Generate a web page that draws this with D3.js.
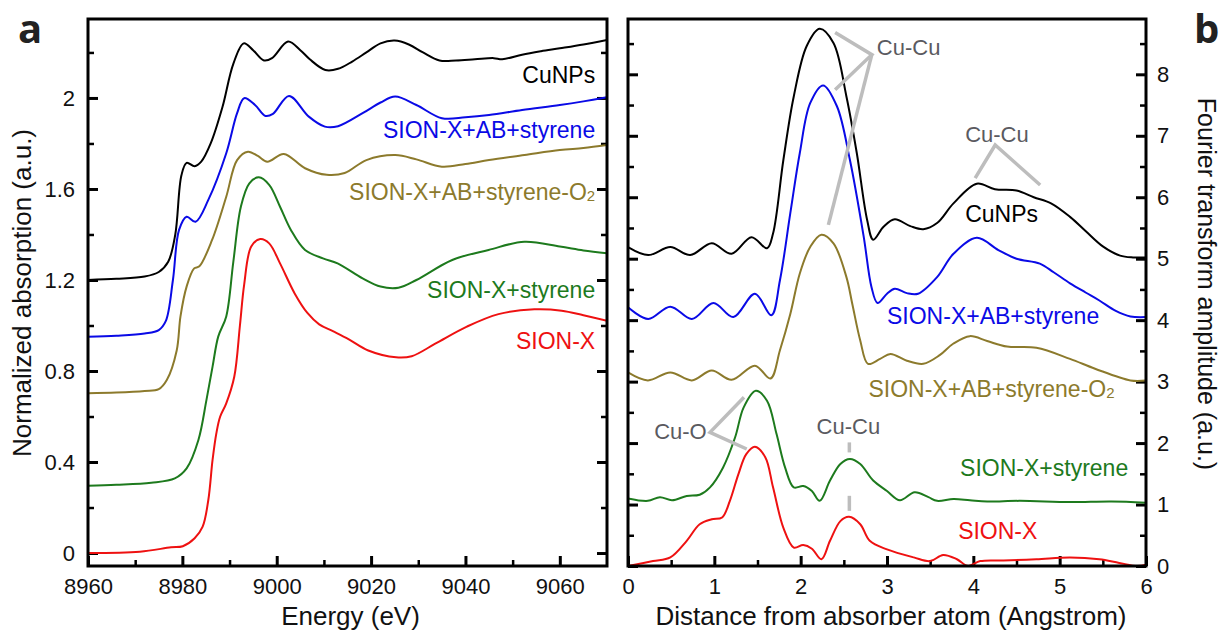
<!DOCTYPE html>
<html>
<head>
<meta charset="utf-8">
<script src="https://cdn.jsdelivr.net/npm/d3@7"></script>
<style>
  body { margin: 0; background: #fff; }
  svg { display: block; font-family: "Liberation Sans", Arial, sans-serif; }
</style>
</head>
<body>
<div id="chart"></div>
<script>
// ---- panel a : XANES (energy in eV, normalized absorption) ----
var eCuNPs   = [8960, 8966, 8972, 8975, 8977, 8978.5, 8979.8, 8980.9, 8982.6, 8984, 8986, 8988.5, 8990.8, 8993, 8995, 8997.3, 8999, 9002.4, 9005, 9007, 9010.3, 9013, 9016, 9019, 9022, 9025, 9028, 9031, 9034.5, 9038, 9042, 9046, 9047.8, 9052, 9056, 9060, 9065, 9070];
var aCuNPs   = [1.20, 1.205, 1.215, 1.235, 1.28, 1.40, 1.66, 1.715, 1.70, 1.72, 1.80, 1.96, 2.15, 2.24, 2.21, 2.165, 2.175, 2.248, 2.21, 2.17, 2.123, 2.128, 2.16, 2.20, 2.24, 2.252, 2.235, 2.20, 2.165, 2.165, 2.17, 2.175, 2.17, 2.19, 2.205, 2.218, 2.235, 2.255];

var eAB      = [8960, 8966, 8972, 8975, 8976.5, 8978, 8979.3, 8980.9, 8982.8, 8985.5, 8989.3, 8991.6, 8993.1, 8995.4, 8997.6, 8999.2, 9002.6, 9006.8, 9010.2, 9013, 9018.2, 9022, 9025.1, 9029.6, 9035, 9040, 9045, 9052, 9060, 9065, 9070];
var aAB      = [0.95, 0.955, 0.965, 0.98, 1.02, 1.20, 1.42, 1.478, 1.456, 1.552, 1.757, 1.933, 1.999, 1.969, 1.921, 1.93, 2.009, 1.918, 1.874, 1.876, 1.933, 1.98, 2.006, 1.969, 1.911, 1.915, 1.925, 1.947, 1.969, 1.985, 2.003];

var eABO2    = [8960, 8966, 8972, 8975, 8976.7, 8978.8, 8979.6, 8980.9, 8982.5, 8983.6, 8986.3, 8989.3, 8991.6, 8993.9, 8996, 8998, 9001.5, 9006, 9010.6, 9014.4, 9019, 9025.1, 9029.6, 9035, 9040, 9045, 9052.5, 9060, 9065, 9070];
var aABO2    = [0.702, 0.705, 0.712, 0.72, 0.76, 0.89, 1.04, 1.171, 1.251, 1.26, 1.376, 1.566, 1.727, 1.764, 1.745, 1.72, 1.754, 1.691, 1.662, 1.67, 1.727, 1.749, 1.73, 1.698, 1.71, 1.727, 1.749, 1.771, 1.78, 1.793];

var eSty     = [8960, 8966, 8973.4, 8978.4, 8980.9, 8983.4, 8985.1, 8986.4, 8987.6, 8989.3, 8990.8, 8992.4, 8994.2, 8996.2, 8998.4, 9000.7, 9003, 9006, 9009.8, 9012.9, 9018.2, 9022, 9025.8, 9029.6, 9037.2, 9044.9, 9052.5, 9060, 9065, 9070];
var aSty     = [0.296, 0.30, 0.309, 0.328, 0.372, 0.497, 0.672, 0.819, 0.951, 1.04, 1.28, 1.522, 1.625, 1.651, 1.618, 1.522, 1.42, 1.332, 1.295, 1.273, 1.207, 1.171, 1.166, 1.20, 1.288, 1.332, 1.368, 1.347, 1.33, 1.317];

var eSion    = [8960, 8971, 8977.6, 8980.1, 8982.6, 8984.3, 8985.5, 8986.4, 8987.2, 8988, 8989.3, 8991, 8992.2, 8993.1, 8994.6, 8996.5, 8998.4, 9000.7, 9003.8, 9006.5, 9009, 9011.9, 9015.2, 9019.4, 9025.3, 9028.6, 9033.6, 9040.3, 9047, 9054.6, 9060.4, 9065, 9070];
var aSion    = [0, 0.006, 0.025, 0.03, 0.065, 0.116, 0.233, 0.409, 0.526, 0.599, 0.658, 0.775, 1.0, 1.18, 1.347, 1.38, 1.361, 1.273, 1.141, 1.055, 1.005, 0.975, 0.94, 0.89, 0.86, 0.865, 0.92, 0.995, 1.05, 1.071, 1.065, 1.045, 1.021];

var xTicksA      = [8960, 8980, 9000, 9020, 9040, 9060];
var xMinorA      = [8970, 8990, 9010, 9030, 9050];
var yTicksA      = [0, 0.4, 0.8, 1.2, 1.6, 2];
var yTickLabelsA = ["0", "0.4", "0.8", "1.2", "1.6", "2"];
var yMinorA      = [0.2, 0.6, 1.0, 1.4, 1.8, 2.2];

// ---- panel b : Fourier transform (distance in Angstrom, amplitude) ----
var rCuNPs = [0, 0.235, 0.49, 0.72, 0.97, 1.2, 1.43, 1.61, 1.68, 1.8, 1.92, 2.07, 2.22, 2.38, 2.53, 2.65, 2.77, 2.84, 2.96, 3.09, 3.27, 3.42, 3.58, 3.77, 4.04, 4.25, 4.5, 4.7, 4.9, 5.12, 5.3, 5.5, 5.7, 5.85, 6];
var fCuNPs = [5.19, 5.06, 5.19, 5.06, 5.25, 5.08, 5.35, 5.17, 5.41, 6.61, 7.64, 8.46, 8.74, 8.51, 7.64, 6.72, 5.63, 5.31, 5.52, 5.64, 5.53, 5.48, 5.58, 5.9, 6.22, 6.13, 6.11, 6.0, 5.9, 5.68, 5.45, 5.2, 5.05, 5.02, 5.02];

var rAB = [0, 0.235, 0.49, 0.74, 0.99, 1.22, 1.47, 1.66, 1.76, 1.88, 1.99, 2.11, 2.26, 2.42, 2.57, 2.73, 2.82, 2.89, 3.0, 3.09, 3.23, 3.36, 3.58, 3.77, 4.04, 4.29, 4.5, 4.77, 4.93, 5.12, 5.3, 5.46, 5.65, 5.82, 6];
var fAB = [4.21, 4.02, 4.22, 4.02, 4.28, 4.05, 4.43, 4.08, 4.65, 5.74, 6.72, 7.53, 7.82, 7.48, 6.61, 5.36, 4.54, 4.28, 4.43, 4.51, 4.44, 4.43, 4.7, 5.08, 5.34, 5.14, 5.0, 4.92, 4.78, 4.6, 4.45, 4.32, 4.15, 4.06, 4.05];

var rABO2 = [0, 0.23, 0.49, 0.74, 0.97, 1.2, 1.47, 1.65, 1.76, 1.88, 1.99, 2.11, 2.24, 2.38, 2.53, 2.6, 2.69, 2.78, 2.92, 3.04, 3.23, 3.42, 3.61, 3.77, 3.96, 4.16, 4.39, 4.73, 5.12, 5.41, 5.82, 6];
var fABO2 = [3.15, 3.02, 3.15, 3.02, 3.18, 3.03, 3.26, 3.05, 3.51, 4.1, 4.76, 5.19, 5.39, 5.25, 4.7, 4.25, 3.67, 3.29, 3.37, 3.45, 3.34, 3.29, 3.43, 3.62, 3.74, 3.66, 3.57, 3.55, 3.37, 3.21, 3.02, 3.02];

var rSty = [0, 0.23, 0.37, 0.51, 0.68, 0.83, 0.95, 1.1, 1.24, 1.34, 1.48, 1.61, 1.72, 1.82, 1.92, 2.03, 2.13, 2.22, 2.34, 2.46, 2.57, 2.69, 2.84, 3.0, 3.15, 3.32, 3.48, 3.58, 3.77, 3.96, 4.16, 4.54, 5.12, 5.6, 6];
var fSty = [1.1, 1.06, 1.12, 1.07, 1.14, 1.16, 1.28, 1.6, 2.09, 2.58, 2.85, 2.69, 2.15, 1.6, 1.28, 1.3, 1.22, 1.06, 1.39, 1.66, 1.74, 1.66, 1.39, 1.22, 1.07, 1.2, 1.12, 1.06, 1.09, 1.07, 1.05, 1.06, 1.04, 1.05, 1.03];

var rSion = [0, 0.29, 0.49, 0.68, 0.83, 0.97, 1.09, 1.18, 1.28, 1.37, 1.47, 1.59, 1.68, 1.8, 1.92, 2.03, 2.13, 2.24, 2.34, 2.46, 2.56, 2.69, 2.8, 3.0, 3.31, 3.5, 3.65, 3.81, 3.94, 4.08, 4.35, 4.73, 5.12, 5.46, 5.69, 5.9, 6];
var fSion = [0, 0.08, 0.14, 0.41, 0.68, 0.76, 0.79, 1.06, 1.5, 1.82, 1.94, 1.77, 1.28, 0.62, 0.3, 0.34, 0.28, 0.11, 0.41, 0.73, 0.8, 0.68, 0.41, 0.27, 0.14, 0.08, 0.18, 0.11, 0.0, 0.08, 0.09, 0.11, 0.14, 0.11, 0.05, 0.0, 0.02];

var xTicksB = [0, 1, 2, 3, 4, 5, 6];
var xMinorB = [0.5, 1.5, 2.5, 3.5, 4.5, 5.5];
var yTicksB = [0, 1, 2, 3, 4, 5, 6, 7, 8];
var yMinorB = [0.5, 1.5, 2.5, 3.5, 4.5, 5.5, 6.5, 7.5, 8.5];

var names  = ["CuNPs", "SION-X+AB+styrene", "SION-X+AB+styrene-O", "SION-X+styrene", "SION-X"];
var colors = ["#000000", "#0a0ae6", "#8c7a2c", "#1d7a1d", "#ee1111"];

var svg = d3.select("#chart").append("svg")
  .attr("width", 1223)
  .attr("height", 632);

var xA = d3.scaleLinear().domain([8960, 9070]).range([88, 607]);
var yA = d3.scaleLinear().domain([-0.057, 2.347]).range([566, 19]);
var xB = d3.scaleLinear().domain([0, 6]).range([628, 1146]);
var yB = d3.scaleLinear().domain([0, 8.9]).range([566, 19]);

function addAxis(axis, tx, ty, size, pad) {
  var g = svg.append("g")
    .attr("transform", `translate(${tx},${ty})`)
    .call(axis.tickSize(-size).tickPadding(pad));
  g.select(".domain").remove();
  g.selectAll(".tick line").attr("stroke", "#000").attr("stroke-width", size > 7 ? 3 : 2.5);
  g.selectAll("text").attr("font-size", "22px").attr("fill", "#111")
    .attr("font-family", "Liberation Sans, Arial, sans-serif");
  return g;
}

function frame(x, y, id) {
  svg.append("clipPath").attr("id", id).append("rect")
    .attr("x", x.range()[0]).attr("y", y.range()[1])
    .attr("width", x.range()[1] - x.range()[0])
    .attr("height", y.range()[0] - y.range()[1]);
}

// ---- panel a axes ----
frame(xA, yA, "clipA");
addAxis(d3.axisBottom(xA).tickValues(xTicksA).tickFormat(d3.format("d")), 0, 566, 10, 12);
addAxis(d3.axisBottom(xA).tickValues(xMinorA).tickFormat(""), 0, 566, 6, 0);
addAxis(d3.axisLeft(yA).tickValues(yTicksA).tickFormat((d, i) => yTickLabelsA[i]), 88, 0, 10, 13);
addAxis(d3.axisLeft(yA).tickValues(yMinorA).tickFormat(""), 88, 0, 6, 0);
addAxis(d3.axisRight(yA).tickValues(yTicksA).tickFormat(""), 607, 0, 10, 0);
addAxis(d3.axisRight(yA).tickValues(yMinorA).tickFormat(""), 607, 0, 6, 0);

// ---- panel b axes ----
frame(xB, yB, "clipB");
addAxis(d3.axisBottom(xB).tickValues(xTicksB).tickFormat(d3.format("d")), 0, 566, 10, 12);
addAxis(d3.axisBottom(xB).tickValues(xMinorB).tickFormat(""), 0, 566, 6, 0);
addAxis(d3.axisLeft(yB).tickValues(yTicksB).tickFormat(""), 628, 0, 10, 0);
addAxis(d3.axisLeft(yB).tickValues(yMinorB).tickFormat(""), 628, 0, 6, 0);
addAxis(d3.axisRight(yB).tickValues(yTicksB).tickFormat(d3.format("d")), 1146, 0, 10, 11);
addAxis(d3.axisRight(yB).tickValues(yMinorB).tickFormat(""), 1146, 0, 6, 0);

// ---- curves ----
function drawCurves(xs, ys, x, y, clip) {
  var line = d3.line()
    .x(d => x(d[0]))
    .y(d => y(d[1]))
    .curve(d3.curveCatmullRom.alpha(0.5));
  xs.forEach(function(arr, i) {
    svg.append("path")
      .datum(arr.map((v, j) => [v, ys[i][j]]))
      .attr("clip-path", `url(#${clip})`)
      .attr("fill", "none")
      .attr("stroke", colors[i])
      .attr("stroke-width", 2)
      .attr("d", line);
  });
}
drawCurves([eCuNPs, eAB, eABO2, eSty, eSion], [aCuNPs, aAB, aABO2, aSty, aSion], xA, yA, "clipA");
drawCurves([rCuNPs, rAB, rABO2, rSty, rSion], [fCuNPs, fAB, fABO2, fSty, fSion], xB, yB, "clipB");

// frames on top
[[xA, yA], [xB, yB]].forEach(function(p) {
  svg.append("rect")
    .attr("x", p[0].range()[0]).attr("y", p[1].range()[1])
    .attr("width", p[0].range()[1] - p[0].range()[0])
    .attr("height", p[1].range()[0] - p[1].range()[1])
    .attr("fill", "none").attr("stroke", "#000").attr("stroke-width", 3);
});

// ---- series labels ----
function seriesLabel(x, y, i, anchor) {
  var t = svg.append("text")
    .attr("x", x).attr("y", y)
    .attr("text-anchor", anchor)
    .attr("font-size", "23px")
    .attr("fill", colors[i])
    .text(names[i]);
  if (i === 2) t.append("tspan").attr("font-size", "15px").attr("dy", 1).text("2");
}
var labelYA = [2.065, 1.823, 1.552, 1.12, 0.895];
labelYA.forEach((v, i) => seriesLabel(xA(9067.5), yA(v), i, "end"));

var labelXB = [3.905, 3.0, 2.785, 3.847, 3.824];
var labelYB = [5.6, 3.943, 2.746, 1.468, 0.436];
labelXB.forEach((v, i) => seriesLabel(xB(v), yB(labelYB[i]), i, "start"));

// ---- annotations (panel b) ----
var annoLines = [
  [[2.399, 8.68], [2.824, 8.32], [2.399, 7.75]],
  [[2.824, 8.32], [2.321, 5.55]],
  [[4.021, 6.31], [4.253, 6.85], [4.774, 6.2]],
  [[1.344, 2.746], [0.950, 2.175], [1.375, 1.904]],
  [[2.564, 2.011], [2.564, 1.848]],
  [[2.564, 1.142], [2.564, 0.897]]
];
var annoLine = d3.line().x(d => xB(d[0])).y(d => yB(d[1]));
svg.append("g").selectAll("path")
  .data(annoLines)
  .enter()
  .append("path")
  .attr("d", annoLine)
  .attr("fill", "none")
  .attr("stroke", "#bdbdbd")
  .attr("stroke-width", 3.5);

var annoText = [
  { t: "Cu-Cu", r: 2.882, v: 8.32, a: "start" },
  { t: "Cu-Cu", r: 3.905, v: 6.905, a: "start" },
  { t: "Cu-O",  r: 0.912, v: 2.067, a: "end" },
  { t: "Cu-Cu", r: 2.553, v: 2.148, a: "middle" }
];
svg.append("g").selectAll("text")
  .data(annoText)
  .enter()
  .append("text")
  .attr("x", d => xB(d.r))
  .attr("y", d => yB(d.v))
  .attr("text-anchor", d => d.a)
  .attr("font-size", "22px")
  .attr("fill", "#5a5a60")
  .text(d => d.t);

// ---- axis titles ----
svg.append("text")
  .attr("x", (88 + 607) / 2 + 3).attr("y", 625)
  .attr("text-anchor", "middle").attr("font-size", "26px").attr("fill", "#111")
  .text("Energy (eV)");

svg.append("text")
  .attr("x", (628 + 1146) / 2 + 4).attr("y", 625)
  .attr("text-anchor", "middle").attr("font-size", "26px").attr("fill", "#111")
  .text("Distance from absorber atom (Angstrom)");

svg.append("text")
  .attr("transform", "translate(31,293) rotate(-90)")
  .attr("text-anchor", "middle").attr("font-size", "26px").attr("fill", "#111")
  .text("Normalized absorption (a.u.)");

svg.append("text")
  .attr("transform", "translate(1198,284) rotate(90)")
  .attr("text-anchor", "middle").attr("font-size", "25px").attr("fill", "#111")
  .text("Fourier transform amplitude (a.u.)");

// ---- panel letters ----
svg.append("text")
  .attr("x", 18).attr("y", 43)
  .attr("font-family", "Open Sans, sans-serif").attr("font-weight", "bold")
  .attr("font-size", "40px").attr("fill", "#222")
  .text("a");
svg.append("text")
  .attr("x", 1194).attr("y", 43)
  .attr("font-family", "Open Sans, sans-serif").attr("font-weight", "bold")
  .attr("font-size", "40px").attr("fill", "#222")
  .text("b");
</script>
</body>
</html>
